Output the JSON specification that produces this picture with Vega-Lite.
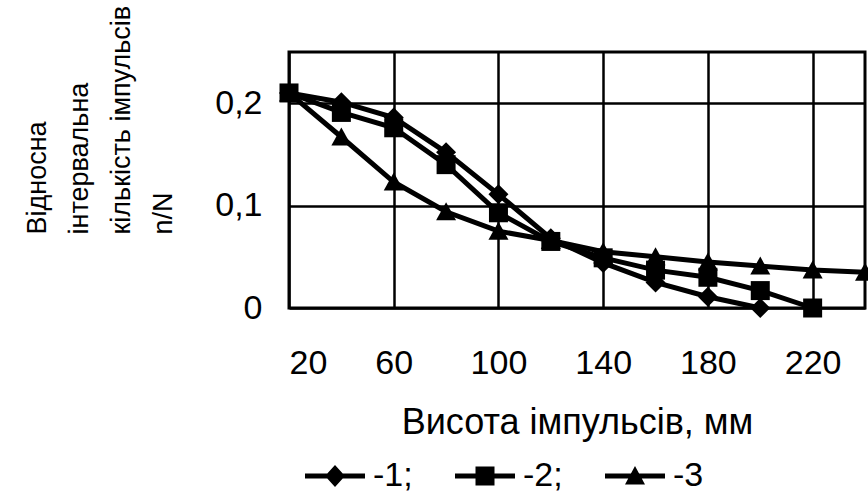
{
  "$schema": "https://vega.github.io/schema/vega-lite/v6.json",
  "autosize": {"type": "none"},
  "padding": {"left": 289, "top": 52, "right": 3, "bottom": 188},
  "width": 576,
  "height": 256,
  "background": "white",
  "config": {
    "font": "Liberation Sans",
    "view": {"stroke": "black", "strokeWidth": 3},
    "axis": {
      "labelFont": "Liberation Sans",
      "titleFont": "Liberation Sans",
      "labelFontSize": 34,
      "titleFontSize": 34,
      "titleFontWeight": "normal",
      "labelColor": "black",
      "titleColor": "black",
      "domain": false,
      "ticks": false,
      "tickSize": 0,
      "grid": true,
      "gridColor": "black",
      "gridWidth": 2.5,
      "gridOpacity": 1
    },
    "legend": {
      "labelFont": "Liberation Sans",
      "labelFontSize": 34,
      "labelColor": "black"
    }
  },
  "data": {
    "values": [
      {"h": 20, "v": 0.21, "s": "-1;"},
      {"h": 40, "v": 0.201, "s": "-1;"},
      {"h": 60, "v": 0.186, "s": "-1;"},
      {"h": 80, "v": 0.152, "s": "-1;"},
      {"h": 100, "v": 0.111, "s": "-1;"},
      {"h": 120, "v": 0.068, "s": "-1;"},
      {"h": 140, "v": 0.044, "s": "-1;"},
      {"h": 160, "v": 0.025, "s": "-1;"},
      {"h": 180, "v": 0.011, "s": "-1;"},
      {"h": 200, "v": 0.0, "s": "-1;"},
      {"h": 20, "v": 0.21, "s": "-2;"},
      {"h": 40, "v": 0.191, "s": "-2;"},
      {"h": 60, "v": 0.176, "s": "-2;"},
      {"h": 80, "v": 0.14, "s": "-2;"},
      {"h": 100, "v": 0.093, "s": "-2;"},
      {"h": 120, "v": 0.065, "s": "-2;"},
      {"h": 140, "v": 0.049, "s": "-2;"},
      {"h": 160, "v": 0.037, "s": "-2;"},
      {"h": 180, "v": 0.03, "s": "-2;"},
      {"h": 200, "v": 0.017, "s": "-2;"},
      {"h": 220, "v": 0.0, "s": "-2;"},
      {"h": 20, "v": 0.21, "s": "-3"},
      {"h": 40, "v": 0.167, "s": "-3"},
      {"h": 60, "v": 0.123, "s": "-3"},
      {"h": 80, "v": 0.094, "s": "-3"},
      {"h": 100, "v": 0.075, "s": "-3"},
      {"h": 120, "v": 0.066, "s": "-3"},
      {"h": 140, "v": 0.055, "s": "-3"},
      {"h": 160, "v": 0.05, "s": "-3"},
      {"h": 180, "v": 0.045, "s": "-3"},
      {"h": 200, "v": 0.041, "s": "-3"},
      {"h": 220, "v": 0.037, "s": "-3"},
      {"h": 240, "v": 0.035, "s": "-3"}
    ]
  },
  "encoding": {
    "x": {
      "field": "h",
      "type": "quantitative",
      "scale": {"domain": [20, 240], "nice": false, "zero": false},
      "axis": {
        "values": [20, 60, 100, 140, 180, 220],
        "labelPadding": 38,
        "labelBaseline": "top",
        "title": "Висота імпульсів, мм",
        "titleFontSize": 36,
        "titleBaseline": "alphabetic",
        "titleY": 125,
        "titleX": 288
      }
    },
    "y": {
      "field": "v",
      "type": "quantitative",
      "scale": {"domain": [0, 0.25], "nice": false},
      "axis": {
        "values": [0, 0.1, 0.2],
        "labelExpr": "datum.value == 0 ? '0' : replace(format(datum.value, '.1f'), '.', ',')",
        "labelPadding": 27,
        "title": ["Відносна", "інтервальна", "кількість імпульсів", "\u00a0\u00a0\u00a0\u00a0\u00a0\u00a0\u00a0n/N"],
        "titleFontSize": 27,
        "titleAngle": 270,
        "titleAlign": "left",
        "titleBaseline": "alphabetic",
        "titleLineHeight": 42,
        "titleX": -244,
        "titleY": 182
      }
    }
  },
  "resolve": {"scale": {"shape": "independent"}, "legend": {"shape": "independent"}},
  "layer": [
    {
      "mark": {"type": "line", "stroke": "black", "strokeWidth": 5},
      "encoding": {"detail": {"field": "s", "type": "nominal"}}
    },
    {
      "mark": {"type": "point", "filled": true, "color": "black", "opacity": 1, "size": 400},
      "encoding": {
        "shape": {
          "field": "s",
          "type": "nominal",
          "scale": {
            "domain": ["-1;", "-2;", "-3"],
            "range": [
              "M0,-1L1,0L0,1L-1,0Z",
              "M-0.95,-0.95H0.95V0.95H-0.95Z",
              "M0,-0.95L1,0.85H-1Z"
            ]
          },
          "legend": null
        }
      }
    },
    {
      "mark": {"type": "point", "filled": true, "color": "black", "size": 0},
      "encoding": {
        "shape": {
          "field": "s",
          "type": "nominal",
          "scale": {
            "domain": ["-1;", "-2;", "-3"],
            "range": [
              "M-3,-0.25H3V0.25H-3ZM0,-1.1L1,0L0,1.1L-1,0Z",
              "M-3,-0.25H3V0.25H-3ZM-0.95,-0.95H0.95V0.95H-0.95Z",
              "M-3,-0.25H3V0.25H-3ZM0,-1L1,0.85H-1Z"
            ]
          },
          "legend": {
            "title": null,
            "orient": "none",
            "direction": "horizontal",
            "legendX": 29,
            "legendY": 407,
            "padding": 0,
            "symbolSize": 400,
            "symbolStrokeWidth": 0,
            "symbolFillColor": "black",
            "symbolOpacity": 1,
            "labelOffset": 21,
            "columnPadding": 42
          }
        }
      }
    }
  ]
}
